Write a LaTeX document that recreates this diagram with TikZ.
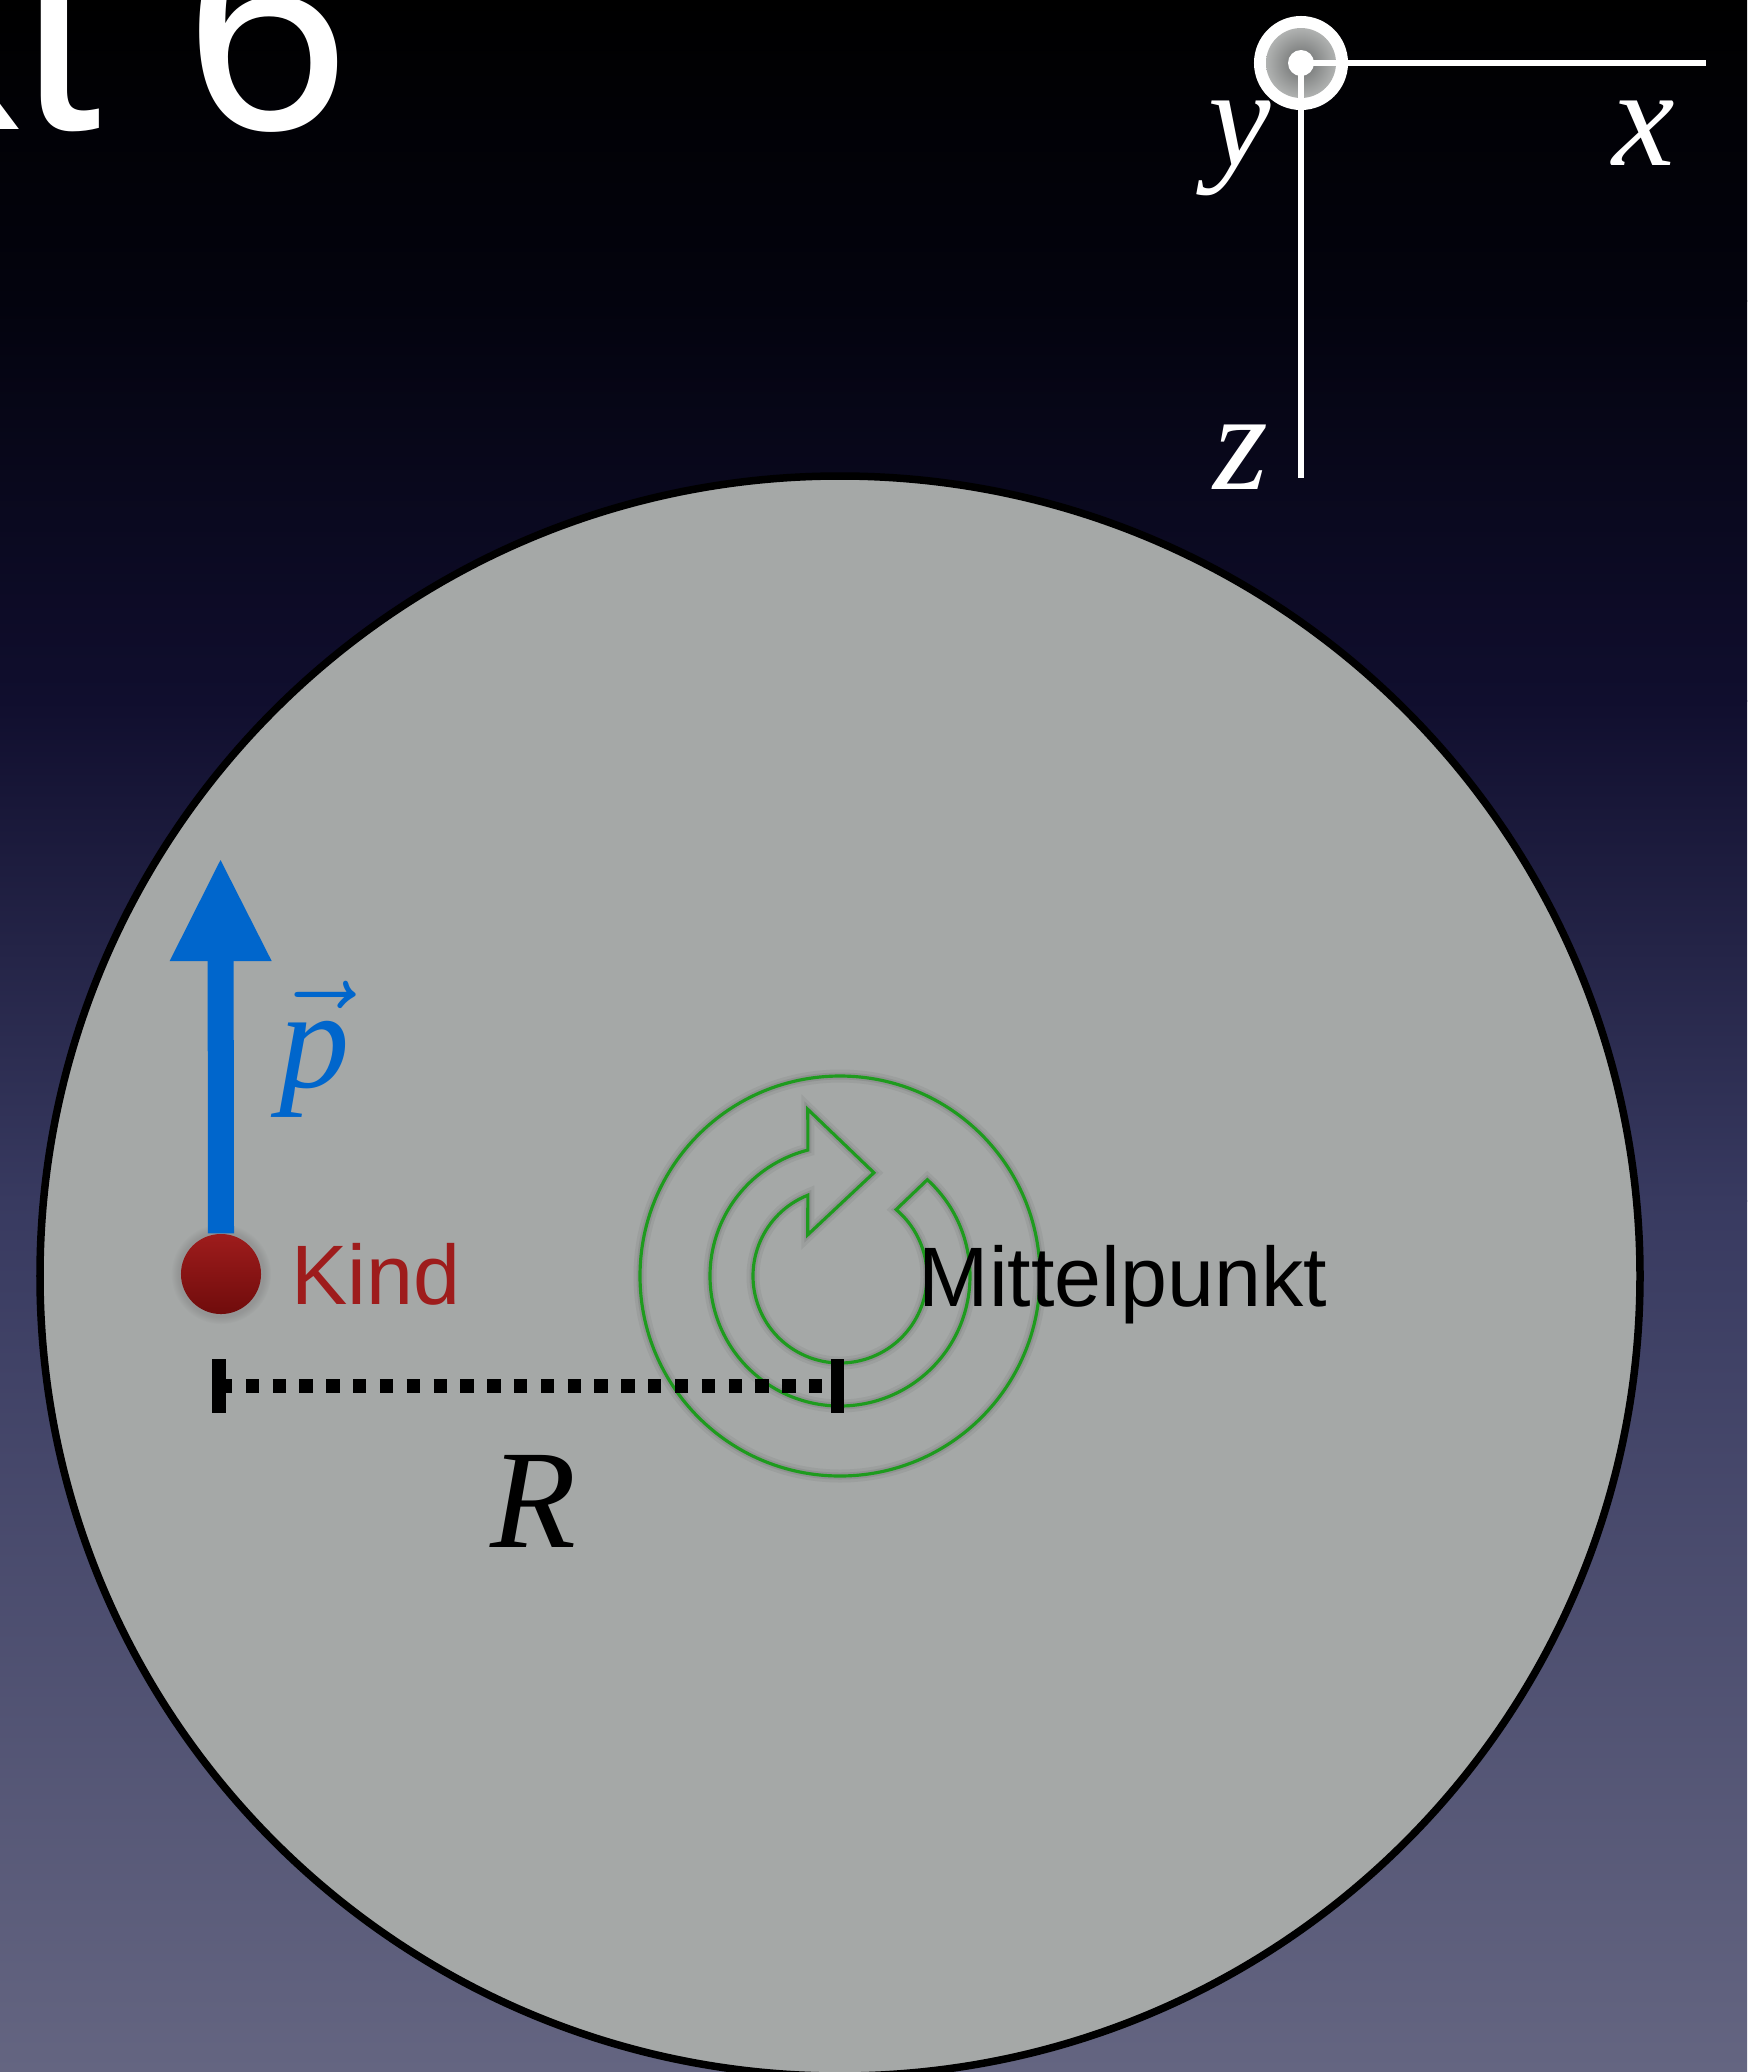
\RequirePackage{fix-cm}
\documentclass[tikz,border=0pt]{standalone}
\usepackage{fontspec}
\setmainfont{Liberation Sans}
\newfontfamily\seriffont{Liberation Serif}
\usetikzlibrary{positioning,calc,arrows.meta,shadows}
\definecolor{bgtop}{RGB}{0,0,0}
\definecolor{bgnavy}{RGB}{3,3,14}
\definecolor{bgmid}{RGB}{16,14,46}
\definecolor{bglow}{RGB}{56,58,96}
\definecolor{bgbottom}{RGB}{100,101,129}
\definecolor{diskgray}{RGB}{165,168,167}
\definecolor{ringgreen}{RGB}{30,155,30}
\definecolor{kidred}{RGB}{158,28,28}
\definecolor{kiddark}{RGB}{112,12,12}
\definecolor{momblue}{RGB}{0,102,204}
\begin{document}
\begin{tikzpicture}[x=0.01cm,y=-0.01cm,
  ringline/.style={draw=ringgreen,line width=0.9pt},
  mathlabel/.style={font=\seriffont\itshape\fontsize{40pt}{44pt}\selectfont,inner sep=0pt},
  sanslabel/.style={font=\fontsize{24pt}{28pt}\selectfont,inner sep=0pt},
  axisline/.style={draw=white,line width=1.7pt},
  tickbar/.style={draw=black,line width=0.13cm}]
\useasboundingbox (0,0) rectangle (1747,2072);
\clip (0,0) rectangle (1747,2072);
% background
\shade[top color=bgtop,bottom color=bgnavy] (0,0) rectangle (1747,301);
\shade[top color=bgnavy,bottom color=bgmid] (0,300) rectangle (1747,701);
\shade[top color=bgmid,bottom color=bglow] (0,700) rectangle (1747,1201);
\shade[top color=bglow,bottom color=bgbottom] (0,1200) rectangle (1747,2072);
\node[text=white,font=\fontsize{85pt}{90pt}\selectfont,anchor=base east,inner sep=0pt] (title) at (352,129) {Punkt 6};
% axes
\node[circle,fill=white,minimum size=0.94cm,inner sep=0pt] (origin) at (1301,63) {};
\shade[inner color={rgb,255:red,105;green,107;blue,107},outer color={rgb,255:red,176;green,178;blue,177}] (origin) circle[radius=35];
\coordinate (xend) at (1706,63);
\coordinate (zend) at (1301,478);
\draw[axisline] (origin.center) -- (xend);
\draw[axisline] (origin.center) -- (zend);
\node[circle,fill=white,minimum size=0.26cm,inner sep=0pt] (pin) at (origin) {};
\node[mathlabel,text=white,anchor=base west] (xlabel) at (1612,165) {x};
\node[mathlabel,text=white,anchor=base west] (ylabel) at (1208,165) {y};
\node[mathlabel,text=white,anchor=base west] (zlabel) at (1213,489) {z};
% disk
\coordinate (hub) at (840,1276);
\draw[fill=diskgray,line width=0.075cm] (hub) circle[radius=800];
% rotation sign
\foreach \w/\c/\o in {0.13cm/black/0.05,0.07cm/black/0.08,0.9pt/ringgreen/1}{
  \draw[draw=\c,draw opacity=\o,line width=\w] (hub) circle[radius=200];
  \draw[draw=\c,draw opacity=\o,line width=\w,line join=miter]
    ($(hub)+(-47.8:130)$) arc[start angle=-47.8,end angle=255.7,radius=130]
    -- ($(hub)+(-32.2,-166.7)$) -- ($(hub)+(33.9,-103.3)$) -- ($(hub)+(-32.2,-41.3)$)
    -- ($(hub)+(248.3:87)$) arc[start angle=248.3,end angle=-49.8,radius=87] -- cycle;
}
% radius bar
\coordinate (barL) at (219,1386);
\coordinate (barR) at (837.5,1386);
\draw[line width=0.14cm,dash pattern=on 0.134cm off 0.134cm] (barL) -- (barR);
\draw[tickbar] ($(barL)+(0,-27)$) -- ($(barL)+(0,27)$);
\draw[tickbar] ($(barR)+(0,-27)$) -- ($(barR)+(0,27)$);
\node[mathlabel,anchor=base west] (Rlabel) at (490,1547) {R};
\node[sanslabel,anchor=base west] (centerlabel) at (918,1306) {Mittelpunkt};
% child and momentum
\node[circle,minimum size=0.8cm,inner sep=0pt,top color=kidred,bottom color=kiddark,
  circular drop shadow={shadow xshift=0pt,shadow yshift=0pt,shadow scale=1.25,opacity=0.45}] (kind) at (221,1274) {};
\coordinate (ptip) at (220.5,860);
\draw[momblue,line width=0.26cm,-{Triangle[length=1.01cm,width=1.02cm,line width=0pt 0 0]}] (kind.north) -- (ptip);
\node[sanslabel,text=kidred,right=0.29cm of kind] (kindlabel) {Kind};
\node[mathlabel,text=momblue,anchor=base west] (plabel) at (279,1087) {$\vec{\hbox{p}}$};
\end{tikzpicture}
\end{document}
